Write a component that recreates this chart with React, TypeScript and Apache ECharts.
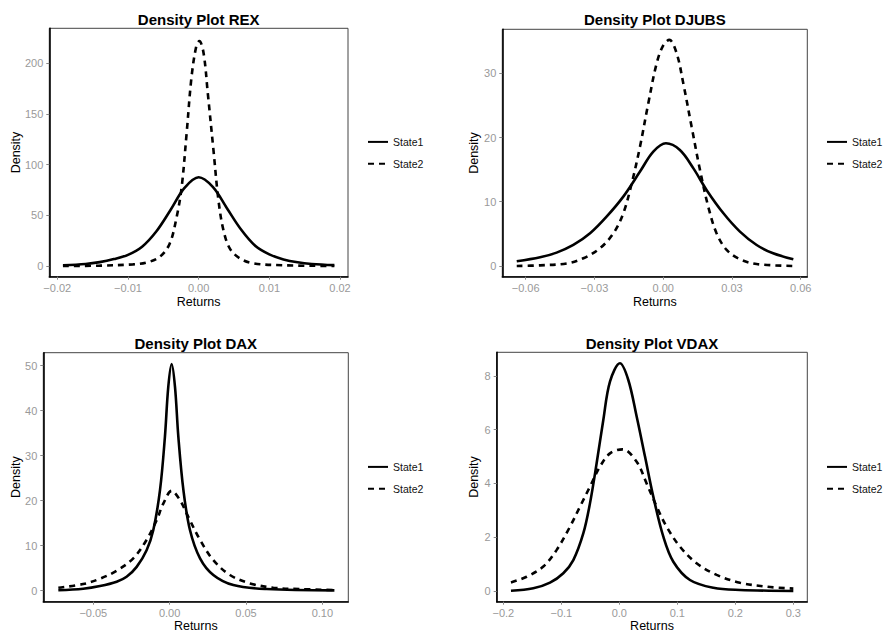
import React, { useEffect, useRef } from "react";
import * as echarts from "echarts";

const FONT = "'Liberation Sans', Arial, Helvetica, sans-serif";

// ---- data ----
const titles = ["Density Plot REX", "Density Plot DJUBS", "Density Plot DAX", "Density Plot VDAX"];
const legendNames = ["State1", "State2"];

const rexS1X = [-0.0192, -0.016, -0.014, -0.012, -0.01, -0.008, -0.006, -0.004, -0.002, 0.0, 0.002, 0.004, 0.006, 0.008, 0.01, 0.012, 0.014, 0.016, 0.0192];
const rexS1Y = [0.7, 2.0, 3.8, 6.8, 11, 19, 34, 55, 77, 87.5, 78, 57, 36, 20, 11.5, 6.5, 3.6, 2.0, 0.8];
const rexS2X = [-0.0192, -0.014, -0.0093, -0.0074, -0.0055, -0.0041, -0.0031, -0.0024, -0.0017, -0.001, -0.0003, 0.0001, 0.0007, 0.0013, 0.0021, 0.0028, 0.0035, 0.0044, 0.0058, 0.0077, 0.012, 0.0192];
const rexS2Y = [0, 0.3, 1.6, 3.3, 9, 22, 48.7, 78, 131, 187, 218, 222, 210, 170, 114, 65, 35.5, 17.4, 7.6, 2.6, 0.7, 0];

const djS1X = [-0.0639, -0.0537, -0.0465, -0.0392, -0.0319, -0.0247, -0.0174, -0.0101, -0.0043, 0.0012, 0.0073, 0.0132, 0.019, 0.0263, 0.0335, 0.0408, 0.048, 0.0568];
const djS1Y = [0.73, 1.35, 2.08, 3.27, 5.09, 7.68, 10.8, 14.7, 17.8, 19.1, 18.06, 15.2, 11.8, 8.2, 5.35, 3.27, 1.97, 1.04];
const djS2X = [-0.0639, -0.0537, -0.0421, -0.0348, -0.0276, -0.0217, -0.0174, -0.0137, -0.0101, -0.0065, -0.0028, 0.0001, 0.0027, 0.0059, 0.0088, 0.0124, 0.0161, 0.0197, 0.0233, 0.0277, 0.0335, 0.0408, 0.0568];
const djS2Y = [0, 0.1, 0.4, 1.2, 2.75, 5.1, 8.2, 12.9, 18.6, 25.3, 31.6, 34.4, 35.2, 33.1, 28.4, 21.7, 14.9, 9.2, 5.1, 2.5, 1.04, 0.3, 0];

const daxS1X = [-0.0729, -0.0566, -0.0456, -0.0347, -0.0282, -0.0216, -0.0151, -0.0107, -0.0063, -0.0031, -0.0009, 0.0013, 0.0035, 0.0057, 0.009, 0.0133, 0.0199, 0.0286, 0.0417, 0.0635, 0.1079];
const daxS1Y = [0.1, 0.44, 1.04, 2.0, 3.1, 5.3, 9.0, 13.5, 22.4, 34.2, 45.3, 50.4, 45.3, 34.2, 22.4, 13.5, 7.2, 3.5, 1.26, 0.37, 0.07];
const daxS2X = [-0.0729, -0.0566, -0.0456, -0.0347, -0.0238, -0.0151, -0.0085, -0.0041, 0.0013, 0.0068, 0.0122, 0.0199, 0.0286, 0.0395, 0.0526, 0.0679, 0.0854, 0.1079];
const daxS2Y = [0.67, 1.48, 2.67, 4.44, 7.2, 11.3, 15.7, 19.4, 22.2, 20.1, 16.4, 11.3, 6.8, 3.5, 1.63, 0.67, 0.37, 0.15];

const vdS1X = [-0.1868, -0.1483, -0.1195, -0.0966, -0.0793, -0.062, -0.0506, -0.0391, -0.0276, -0.0161, 0.0011, 0.0155, 0.0299, 0.0443, 0.0586, 0.0759, 0.0931, 0.1218, 0.1621, 0.208, 0.3];
const vdS1Y = [0.01, 0.1, 0.31, 0.66, 1.15, 2.15, 3.26, 4.75, 6.36, 7.79, 8.47, 7.85, 6.49, 5.0, 3.51, 2.02, 1.09, 0.41, 0.12, 0.04, 0];
const vdS2X = [-0.1868, -0.1598, -0.131, -0.108, -0.0851, -0.0678, -0.0506, -0.0333, -0.0161, 0.0057, 0.0299, 0.0471, 0.0644, 0.0816, 0.1046, 0.1333, 0.1678, 0.208, 0.254, 0.3];
const vdS2Y = [0.32, 0.53, 0.91, 1.53, 2.39, 3.14, 3.88, 4.63, 5.12, 5.27, 4.81, 4.0, 3.14, 2.39, 1.65, 1.03, 0.6, 0.31, 0.16, 0.09];

const rexXTicks = [-0.02, -0.01, 0, 0.01, 0.02];
const rexYTicks = [0, 50, 100, 150, 200];
const djXTicks = [-0.06, -0.03, 0, 0.03, 0.06];
const djYTicks = [0, 10, 20, 30];
const daxXTicks = [-0.05, 0, 0.05, 0.1];
const daxYTicks = [0, 10, 20, 30, 40, 50];
const vdXTicks = [-0.2, -0.1, 0, 0.1, 0.2, 0.3];
const vdYTicks = [0, 2, 4, 6, 8];

const zip = (xs: number[], ys: number[]) => xs.map((x, i) => [x, ys[i]]);

// ---- layout ----
const panels = [
  { grid: { left: 49.3, top: 28.3, width: 298.7, height: 248.4 }, xMin: -0.02113, xMax: 0.02113, yMin: -10.6, yMax: 234.6, xTicks: rexXTicks, yTicks: rexYTicks, dec: 2, s1: zip(rexS1X, rexS1Y), s2: zip(rexS2X, rexS2Y), titleY: 19.2, nameY: 301.5, densX: 15.5, legend: { left: 367, top: 136.3 } },
  { grid: { left: 502.3, top: 29.3, width: 305, height: 247.4 }, xMin: -0.0702, xMax: 0.0629, yMin: -1.67, yMax: 36.85, xTicks: djXTicks, yTicks: djYTicks, dec: 2, s1: zip(djS1X, djS1Y), s2: zip(djS2X, djS2Y), titleY: 19.2, nameY: 301.5, densX: 474.3, legend: { left: 826, top: 136.3 } },
  { grid: { left: 43.3, top: 352.7, width: 305, height: 249 }, xMin: -0.08275, xMax: 0.117, yMin: -2.44, yMax: 52.9, xTicks: daxXTicks, yTicks: daxYTicks, dec: 2, s1: zip(daxS1X, daxS1Y), s2: zip(daxS2X, daxS2Y), titleY: 343.8, nameY: 626, densX: 16, legend: { left: 367, top: 461.3 } },
  { grid: { left: 496.7, top: 352.3, width: 310.6, height: 249.4 }, xMin: -0.2114, xMax: 0.3241, yMin: -0.398, yMax: 8.88, xTicks: vdXTicks, yTicks: vdYTicks, dec: 1, s1: zip(vdS1X, vdS1Y), s2: zip(vdS2X, vdS2Y), titleY: 343.8, nameY: 626, densX: 474.3, legend: { left: 826, top: 461.3 } },
];

const fmt = (d: number) => (v: number) => {
  const s = Math.abs(v) < 1e-12 ? (0).toFixed(d) : Math.abs(v).toFixed(d);
  return v < -1e-12 ? "\u2212" + s : s;
};

export default function App() {
  const ref = useRef<HTMLDivElement>(null);
  useEffect(() => {
    if (!ref.current) return;
    const chart = echarts.init(ref.current, null, { renderer: "svg" });
    const grids: any[] = [];
    const xAxes: any[] = [];
    const yAxes: any[] = [];
    const series: any[] = [];
    const legends: any[] = [];
    const graphics: any[] = [];
    panels.forEach((p, i) => {
      grids.push({ ...p.grid, show: true, borderColor: "#444", borderWidth: 1, containLabel: false });
      xAxes.push({
        gridIndex: i, type: "value", min: p.xMin, max: p.xMax,
        axisLine: { show: true, onZero: false, lineStyle: { color: "#000", width: 1.6 } },
        axisTick: { show: true, length: 3, customValues: p.xTicks, lineStyle: { color: "#888", width: 1 } },
        axisLabel: { customValues: p.xTicks, formatter: fmt(p.dec), color: "#999", fontSize: 11, margin: 6, fontFamily: FONT },
        splitLine: { show: false },
      });
      yAxes.push({
        gridIndex: i, type: "value", min: p.yMin, max: p.yMax,
        axisLine: { show: true, onZero: false, lineStyle: { color: "#000", width: 1.6 } },
        axisTick: { show: true, length: 3, customValues: p.yTicks, lineStyle: { color: "#888", width: 1 } },
        axisLabel: { customValues: p.yTicks, formatter: (v: number) => String(Math.round(v)), color: "#999", fontSize: 11, margin: 6, fontFamily: FONT },
        splitLine: { show: false },
      });
      series.push({
        name: legendNames[0], type: "line", xAxisIndex: i, yAxisIndex: i, data: p.s1,
        symbol: "none", showSymbol: false, smooth: 0.35,
        lineStyle: { color: "#000", width: 2.6, type: "solid" }, itemStyle: { color: "#000" },
      });
      series.push({
        name: legendNames[1], type: "line", xAxisIndex: i, yAxisIndex: i, data: p.s2,
        symbol: "none", showSymbol: false, smooth: 0.35,
        lineStyle: { color: "#000", width: 2.6, type: [6, 5] }, itemStyle: { color: "#000" },
      });
      legends.push({
        orient: "vertical", left: p.legend.left, top: p.legend.top, padding: 0,
        itemWidth: 20, itemHeight: 14, itemGap: 10.7, data: legendNames,
        itemStyle: { color: "transparent", borderColor: "transparent", borderWidth: 0, opacity: 0 },
        textStyle: { fontSize: 10.5, color: "#111", fontFamily: FONT },
        selectedMode: false,
      });
      const cx = p.grid.left + p.grid.width / 2;
      graphics.push({
        type: "text", x: cx, y: p.titleY,
        style: { text: titles[i], font: `bold 15px ${FONT}`, fill: "#000", textAlign: "center", textVerticalAlign: "middle" },
      });
      graphics.push({
        type: "text", x: cx, y: p.nameY,
        style: { text: "Returns", font: `12.5px ${FONT}`, fill: "#000", textAlign: "center", textVerticalAlign: "middle" },
      });
      graphics.push({
        type: "text", x: p.densX, y: p.grid.top + p.grid.height / 2, rotation: Math.PI / 2,
        style: { text: "Density", font: `12.5px ${FONT}`, fill: "#000", textAlign: "center", textVerticalAlign: "middle" },
      });
    });
    chart.setOption({
      animation: false,
      backgroundColor: "#fff",
      textStyle: { fontFamily: FONT },
      grid: grids,
      xAxis: xAxes,
      yAxis: yAxes,
      legend: legends,
      series,
      graphic: graphics,
    });
    return () => chart.dispose();
  }, []);
  return <div ref={ref} style={{ position: "fixed", left: 0, top: 0, width: 884, height: 636 }} />;
}
